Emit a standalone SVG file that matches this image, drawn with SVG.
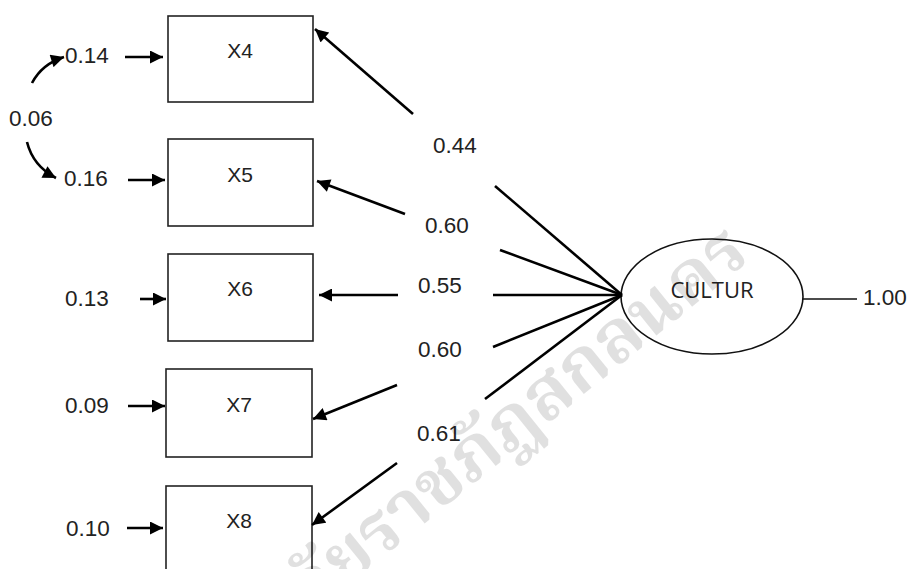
<svg xmlns="http://www.w3.org/2000/svg" width="910" height="569" viewBox="0 0 910 569">
<defs>
<marker id="ah" viewBox="0 0 10 10" refX="10" refY="5" markerWidth="5.5" markerHeight="5" markerUnits="strokeWidth" orient="auto">
<path d="M0,0 L10,5 L0,10 z" fill="#000"/>
</marker>
<style>
.box{fill:#fff;stroke:#222;stroke-width:1.6}
.lbl{font-family:"Liberation Sans",Arial,sans-serif;font-size:22.5px;fill:#222}
.nm{font-family:"Liberation Sans",Arial,sans-serif;font-size:21px;fill:#222;text-anchor:middle}
.con{stroke:#000;stroke-width:2.6;fill:none}
.arr{stroke:#000;stroke-width:2.6;fill:none;marker-end:url(#ah)}
.wm{font-family:"Noto Serif Thai","Noto Sans Thai Looped","Noto Sans Thai","Noto Sans",sans-serif;font-size:72px;font-weight:bold;fill:#000;fill-opacity:0.12}
</style>
</defs>
<rect width="910" height="569" fill="#fff"/>
<g id="X4"><rect class="box" x="168" y="16" width="145" height="86"/><text class="nm" x="240" y="58">X4</text></g>
<g id="X5"><rect class="box" x="168" y="139" width="145" height="87"/><text class="nm" x="240" y="182">X5</text></g>
<g id="X6"><rect class="box" x="168" y="254" width="145" height="87"/><text class="nm" x="240" y="296">X6</text></g>
<g id="X7"><rect class="box" x="166" y="369" width="146" height="88"/><text class="nm" x="239" y="412">X7</text></g>
<g id="X8"><rect class="box" x="166" y="486" width="146" height="100"/><text class="nm" x="239" y="528">X8</text></g>
<g id="CULTUR"><ellipse cx="712" cy="296.5" rx="91" ry="57.5" fill="#fff" stroke="#111" stroke-width="1.6"/><text x="712" y="298" text-anchor="middle" font-family="'Open Sans',sans-serif" font-size="22" fill="#222">CULTUR</text></g>
<g id="errors">
<text class="lbl" x="65" y="63">0.14</text>
<text class="lbl" x="64" y="186">0.16</text>
<text class="lbl" x="65" y="306">0.13</text>
<text class="lbl" x="65" y="413">0.09</text>
<text class="lbl" x="66" y="536">0.10</text>
<text class="lbl" x="9" y="126">0.06</text>
<text class="lbl" x="863" y="305">1.00</text>
</g>
<g id="loadings">
<text class="lbl" x="433" y="153">0.44</text>
<text class="lbl" x="425" y="233">0.60</text>
<text class="lbl" x="418" y="293">0.55</text>
<text class="lbl" x="418" y="357">0.60</text>
<text class="lbl" x="417" y="441">0.61</text>
</g>
<g id="connectors">
<line class="arr" x1="125" y1="57" x2="163" y2="57"/>
<line class="arr" x1="128" y1="180" x2="165" y2="180"/>
<line class="arr" x1="140" y1="299" x2="166" y2="299"/>
<line class="arr" x1="128" y1="406" x2="165" y2="406"/>
<line class="arr" x1="127" y1="528" x2="163" y2="528"/>
<path class="arr" d="M32,83 Q42,64 64,57"/>
<path class="arr" d="M27,142 Q33,166 56,178"/>
<line class="con" x1="622" y1="295" x2="495" y2="186"/>
<line class="arr" x1="413" y1="114" x2="315" y2="29"/>
<line class="con" x1="622" y1="295" x2="500" y2="250"/>
<line class="arr" x1="405" y1="214" x2="317" y2="181"/>
<line class="con" x1="622" y1="295" x2="493" y2="295"/>
<line class="arr" x1="398" y1="295" x2="319" y2="295"/>
<line class="con" x1="622" y1="295" x2="493" y2="347"/>
<line class="arr" x1="397" y1="385" x2="313" y2="419"/>
<line class="con" x1="622" y1="295" x2="485" y2="399"/>
<line class="arr" x1="397" y1="463" x2="312" y2="525"/>
<line x1="803" y1="299" x2="857" y2="299" stroke="#111" stroke-width="1.6"/>
</g>
<text class="wm" transform="translate(752,258) rotate(-39)" text-anchor="end">มหาวิทยาลัยราชภัฏสกลนคร</text>
</svg>
